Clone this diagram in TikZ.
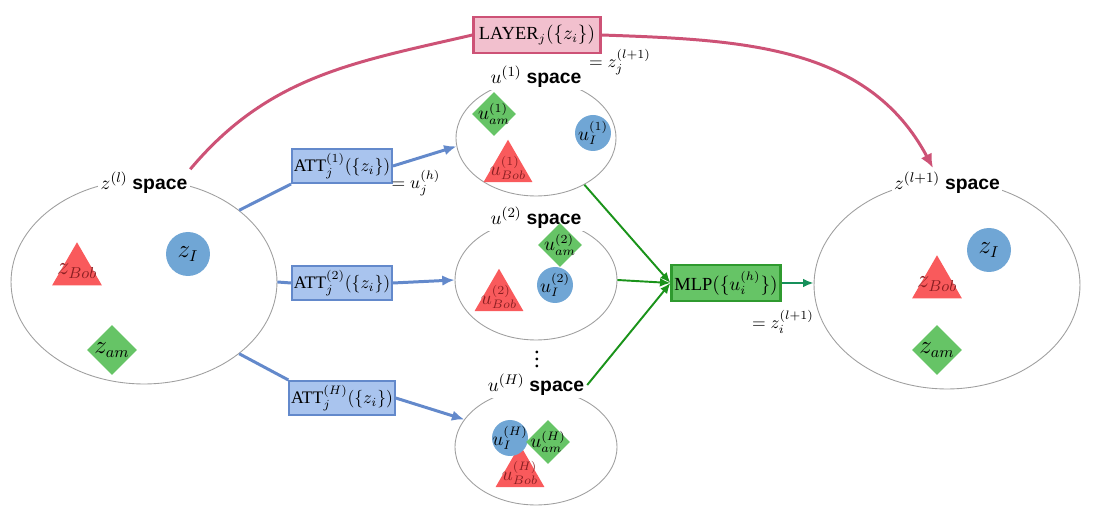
\documentclass[tikz,border=0pt]{standalone}
\usepackage{fontspec}
\setmainfont{Liberation Serif}
\setsansfont{Liberation Sans}
\usepackage{tikz}
\usetikzlibrary{arrows.meta,shapes.geometric,positioning}

\definecolor{trired}{HTML}{F95A5C}
\definecolor{dotblue}{HTML}{70A6D5}
\definecolor{diagreen}{HTML}{66C466}
\definecolor{attfill}{HTML}{A9C4EE}
\definecolor{attdraw}{HTML}{6389CB}
\definecolor{lyrfill}{HTML}{F2C0CE}
\definecolor{lyrdraw}{HTML}{CD5276}
\definecolor{mlpfill}{HTML}{66C466}
\definecolor{mlpdraw}{HTML}{2F9A2F}
\definecolor{arrgreen}{HTML}{1A931A}
\definecolor{outgreen}{HTML}{16905A}
\definecolor{bobtext}{HTML}{8A1F22}

\begin{document}
\begin{tikzpicture}[x=0.02cm,y=-0.02cm,
    region/.style={ellipse,draw=gray!75,line width=0.5pt,inner sep=0pt},
    spacelbl/.style={fill=white,inner sep=1.5pt,font=\fontsize{11}{13}\selectfont},
    tri/.style={regular polygon,regular polygon sides=3,fill=trired,inner sep=0pt,minimum size=1.15cm,
        label={[text=bobtext,font=\fontsize{13.5}{14}\selectfont]center:#1}},
    dia/.style={diamond,fill=diagreen,inner sep=0pt,minimum size=1cm,
        label={[font=\fontsize{13.5}{14}\selectfont]center:#1}},
    blob/.style={circle,fill=dotblue,inner sep=0pt,minimum size=0.88cm,
        label={[font=\fontsize{13.5}{14}\selectfont]center:#1}},
    utri/.style={regular polygon,regular polygon sides=3,fill=trired,inner sep=0pt,minimum size=1.13cm,
        label={[text=bobtext,font=\fontsize{10.5}{12}\selectfont]center:#1}},
    udia/.style={diamond,fill=diagreen,inner sep=0pt,minimum size=0.88cm,
        label={[font=\fontsize{10.5}{12}\selectfont]center:#1}},
    ublob/.style={circle,fill=dotblue,inner sep=0pt,minimum size=0.72cm,
        label={[font=\fontsize{10.5}{12}\selectfont]center:#1}},
    attbox/.style={draw=attdraw,fill=attfill,line width=1.2pt,minimum width=1.92cm,minimum height=0.68cm,
        inner sep=1pt,font=\fontsize{10}{12}\selectfont},
    lyrbox/.style={draw=lyrdraw,fill=lyrfill,line width=1.2pt,minimum width=2.54cm,minimum height=0.72cm,
        inner sep=1pt,font=\fontsize{10.5}{12}\selectfont},
    mlpbox/.style={draw=mlpdraw,fill=mlpfill,line width=1.2pt,minimum width=2.18cm,minimum height=0.72cm,
        inner sep=1pt,font=\fontsize{10.5}{12}\selectfont},
    eqlbl/.style={font=\fontsize{10}{12}\selectfont},
    attline/.style={draw=attdraw,line width=1.7pt},
    lyrline/.style={draw=lyrdraw,line width=1.7pt},
    mlpline/.style={draw=arrgreen,line width=1.1pt,-{Latex[length=6pt,width=5pt]}}
]
\useasboundingbox (0,0) rectangle (1100,516);

% z^(l) space
\node[region,minimum width=5.32cm,minimum height=4.08cm] (zl) at (144,282) {};
\node[spacelbl] (zllbl) at (144,183) {$z^{(l)}$ \textbf{\sffamily space}};
\node[tri={$z_{Bob}$}] (zlbob) at (77,271) {};
\node[blob={$z_I$}] (zli) at (188,254) {};
\node[dia={$z_{am}$}] (zlam) at (112,350) {};

% u^(1) space
\node[region,minimum width=3.2cm,minimum height=2.32cm] (u1) at (536,138) {};
\node[spacelbl] (u1lbl) at (536,77) {$u^{(1)}$ \textbf{\sffamily space}};
\node[udia={$u^{(1)}_{am}$}] (u1am) at (494,114) {};
\node[ublob={$u^{(1)}_{I}$}] (u1i) at (593,133) {};
\node[utri={$u^{(1)}_{Bob}$}] (u1bob) at (508,168) {};

% u^(2) space
\node[region,minimum width=3.24cm,minimum height=2.4cm] (u2) at (536,280) {};
\node[spacelbl] (u2lbl) at (536,218) {$u^{(2)}$ \textbf{\sffamily space}};
\node[udia={$u^{(2)}_{am}$}] (u2am) at (560,245) {};
\node[ublob={$u^{(2)}_{I}$}] (u2i) at (555,285) {};
\node[utri={$u^{(2)}_{Bob}$}] (u2bob) at (499,297) {};

\node[inner sep=0pt,font=\fontsize{13}{14}\selectfont\boldmath] (vdots) at (537,354) {$\vdots$};

% u^(H) space
\node[region,minimum width=3.24cm,minimum height=2.32cm] (uH) at (536,447) {};
\node[spacelbl] (uHlbl) at (536,385) {$u^{(H)}$ \textbf{\sffamily space}};
\node[utri={}] (uHbob) at (520,473) {};
\node[ublob={$u^{(H)}_{I}$}] (uHi) at (510,438) {};
\node[udia={$u^{(H)}_{am}$}] (uHam) at (548,442) {};
\node[text=bobtext,font=\fontsize{10.5}{12}\selectfont] (uHbobt) at (520,473) {$u^{(H)}_{Bob}$};

% z^(l+1) space
\node[region,minimum width=5.32cm,minimum height=4.16cm] (zr) at (947,285) {};
\node[spacelbl] (zrlbl) at (947,183) {$z^{(l+1)}$ \textbf{\sffamily space}};
\node[tri={$z_{Bob}$}] (zrbob) at (937,284) {};
\node[blob={$z_I$}] (zri) at (989,250) {};
\node[dia={$z_{am}$}] (zram) at (937,350) {};

% boxes
\node[lyrbox] (layer) at (537,35) {LAYER$_j(\{z_i\})$};
\node[attbox] (att1) at (342,166) {ATT$_j^{(1)}(\{z_i\})$};
\node[attbox] (att2) at (342,283) {ATT$_j^{(2)}(\{z_i\})$};
\node[attbox] (attH) at (342,398) {ATT$_j^{(H)}(\{z_i\})$};
\node[mlpbox] (mlp) at (726,283) {MLP$(\{u_i^{(h)}\})$};

\node[eqlbl] (eqlayer) at (620,62) {$=z_j^{(l+1)}$};
\node[eqlbl] (eqatt) at (416,183) {$=u_j^{(h)}$};
\node[eqlbl] (eqmlp) at (783,322) {$=z_i^{(l+1)}$};

% connectors
\coordinate (rtop) at (933,168);
\draw[lyrline] (zllbl.north east) to[out=50,in=193] (layer.west);
\draw[lyrline,-{Latex[length=8pt,width=7pt]}] (layer.east) to[out=-2,in=118] (rtop);

\draw[attline] (zl.37) -- (att1.south west);
\draw[attline,-{Latex[length=7pt,width=6pt]}] (att1.east) -- (u1.186);
\draw[attline] (zl.east) -- (att2.west);
\draw[attline,-{Latex[length=7pt,width=6pt]}] (att2.east) -- (u2.west);
\draw[attline] (zl.-37) -- (attH.north west);
\draw[attline,-{Latex[length=7pt,width=6pt]}] (attH.east) -- (uH.159);

\draw[mlpline] (u1.-44) -- (mlp.west);
\draw[mlpline] (u2.east) -- (mlp.west);
\draw[mlpline] (uHlbl.east) -- (mlp.west);
\draw[mlpline,draw=outgreen] (mlp.east) -- (mlp.east -| zr.west);
\end{tikzpicture}
\end{document}
